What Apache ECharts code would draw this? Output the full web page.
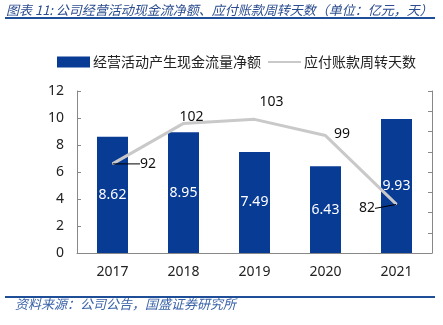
<!DOCTYPE html>
<html><head><meta charset="utf-8">
<script src="https://cdn.jsdelivr.net/npm/echarts@6/dist/echarts.min.js"></script>
<style>html,body{margin:0;padding:0;background:#fff}#c{width:443px;height:325px}</style>
</head><body><div id="c"></div>
<script>
var categories = ['2017', '2018', '2019', '2020', '2021'];
var cashFlow = [8.62, 8.95, 7.49, 6.43, 9.93];
var payableDays = [92, 102, 103, 99, 82];
var leftTicks = [0, 2, 4, 6, 8, 10, 12];

var titleText = '图表 11: 公司经营活动现金流净额、应付账款周转天数（单位：亿元，天）';
var sourceText = '资料来源：公司公告，国盛证券研究所';
var numFont = '"Noto Sans", "Noto Sans CJK SC", sans-serif';
var cjkFont = '"Noto Sans CJK SC", sans-serif';

var labelShift = [
  {pos: 'right', dx: 22, dy: 0, line: true},
  {pos: 'top', dx: 8, dy: 6, line: false},
  {pos: 'top', dx: 17, dy: -5, line: false},
  {pos: 'right', dx: 3, dy: -2, line: false},
  {pos: 'left', dx: -16, dy: 4, line: true}
];

var chart = echarts.init(document.getElementById('c'), null, {renderer: 'canvas'});
chart.setOption({
  animation: false,
  textStyle: {fontFamily: numFont},
  graphic: [
    {type: 'text', left: 6, top: 4, style: {text: titleText, fill: '#2B4C8F', font: 'italic 13px ' + cjkFont}},
    {type: 'rect', shape: {x: 5, y: 17, width: 430, height: 2}, style: {fill: '#1F4E99'}},
    {type: 'rect', shape: {x: 5, y: 296, width: 430, height: 2}, style: {fill: '#1F4E99'}},
    {type: 'text', left: 15, top: 298, style: {text: sourceText, fill: '#3A63A8', font: 'italic 13px ' + cjkFont}}
  ],
  legend: {
    top: 55, left: 57, padding: 0,
    itemWidth: 33, itemHeight: 11, itemGap: 6,
    textStyle: {fontFamily: cjkFont, fontSize: 14, color: '#222', padding: [0, 0, 0, -2]},
    data: [
      {name: '经营活动产生现金流量净额', icon: 'rect'},
      {name: '应付账款周转天数', itemStyle: {opacity: 0}}
    ]
  },
  grid: {left: 77, right: 11, top: 91, bottom: 72},
  xAxis: {
    type: 'category', data: categories,
    axisLine: {lineStyle: {color: '#888', width: 1}},
    axisTick: {inside: true, length: 4, lineStyle: {color: '#888'}},
    axisLabel: {fontSize: 14, color: '#222', margin: 12, fontFamily: numFont}
  },
  yAxis: [
    {
      type: 'value', min: leftTicks[0], max: leftTicks[leftTicks.length - 1], interval: 2,
      axisLine: {show: true, lineStyle: {color: '#888'}},
      axisTick: {show: true, inside: true, length: 4, lineStyle: {color: '#888'}},
      axisLabel: {fontSize: 14, color: '#222', margin: 13, fontFamily: numFont},
      splitLine: {show: false}
    },
    {
      type: 'value', min: 70, max: 110, interval: 5, position: 'right',
      axisLine: {show: true, lineStyle: {color: '#888'}},
      axisTick: {show: true, inside: true, length: 4, lineStyle: {color: '#888'}},
      axisLabel: {show: false},
      splitLine: {show: false}
    }
  ],
  series: [
    {
      name: '经营活动产生现金流量净额', type: 'bar', data: cashFlow, barWidth: 31,
      itemStyle: {color: '#083B94'},
      label: {show: true, position: 'inside', color: '#fff', fontSize: 14, fontFamily: numFont}
    },
    {
      name: '应付账款周转天数', type: 'line', yAxisIndex: 1, z: 5,
      data: payableDays.map(function (v, i) {
        var s = labelShift[i];
        return {value: v, label: {position: s.pos}, labelLine: {show: s.line}};
      }),
      showSymbol: true, symbol: 'circle', symbolSize: 1,
      lineStyle: {color: '#C9C9C9', width: 3},
      itemStyle: {color: '#C9C9C9'},
      label: {show: true, color: '#111', fontSize: 14, fontFamily: numFont, distance: 5},
      labelLine: {show: false, lineStyle: {color: '#000', width: 1}},
      labelLayout: function (p) {
        var s = labelShift[p.dataIndex];
        return {dx: s.dx, dy: s.dy};
      }
    }
  ]
});
</script></body></html>
